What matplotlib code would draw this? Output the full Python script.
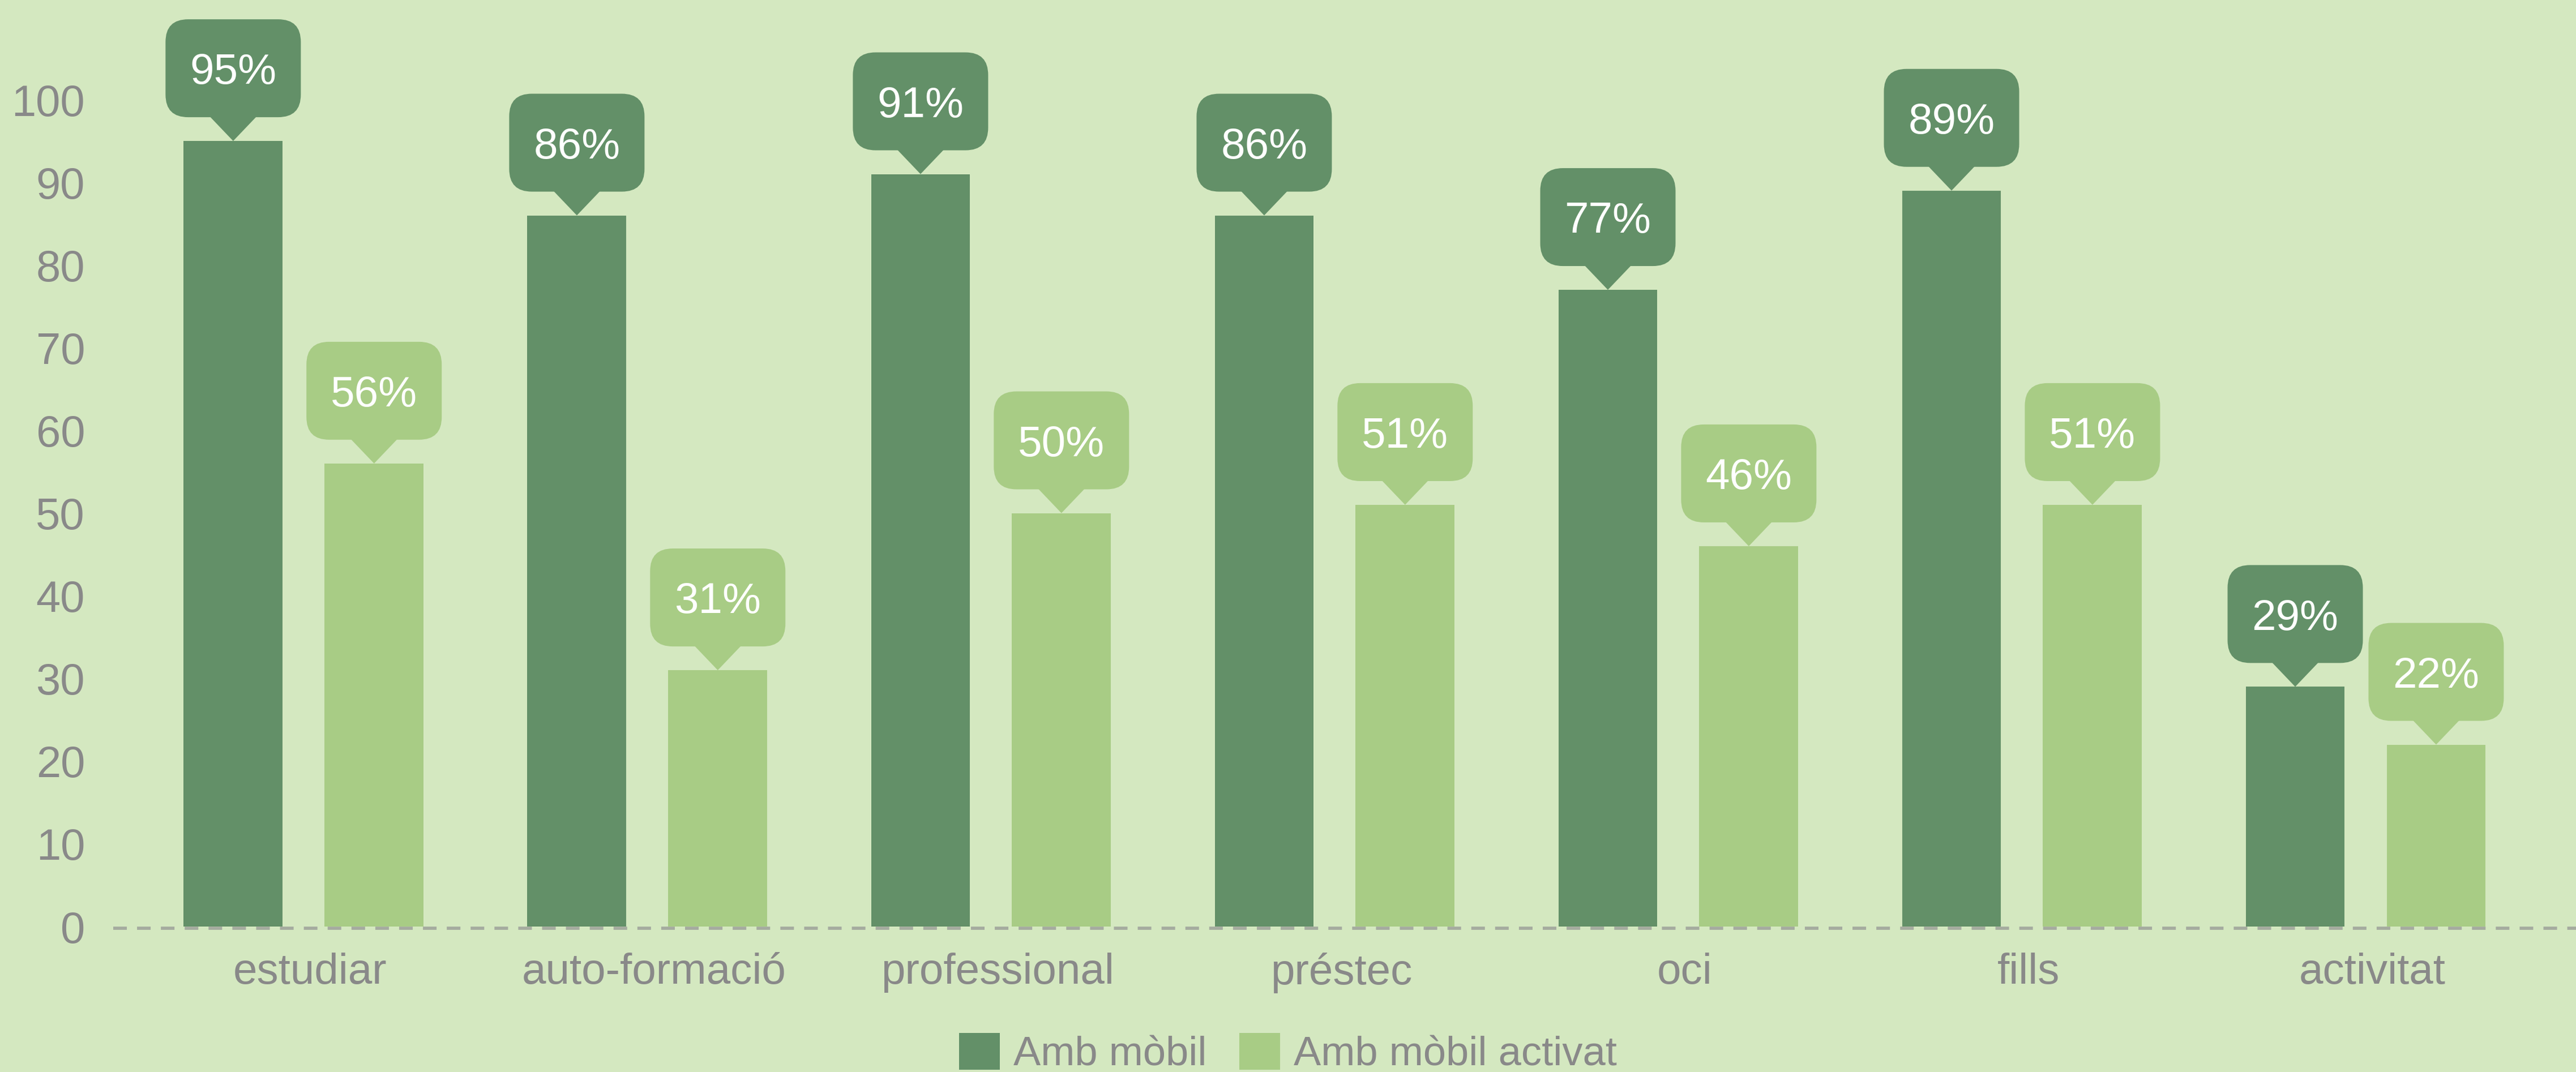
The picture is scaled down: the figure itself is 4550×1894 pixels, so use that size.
import matplotlib
matplotlib.use("Agg")
import matplotlib.pyplot as plt
import matplotlib.transforms as mtransforms
from matplotlib.patches import FancyBboxPatch, Polygon, Patch

categories = ["estudiar", "auto-formació", "professional", "préstec", "oci", "fills", "activitat"]
amb_mobil = [95, 86, 91, 86, 77, 89, 29]
amb_mobil_activat = [56, 31, 50, 51, 46, 51, 22]
series_names = ["Amb mòbil", "Amb mòbil activat"]
yticks = [0, 10, 20, 30, 40, 50, 60, 70, 80, 90, 100]

bg = "#d4e8c0"
dark = "#639068"
light = "#a8cc85"
grey = "#898989"

plt.rcParams["font.family"] = ["Liberation Sans", "DejaVu Sans"]
plt.rcParams["lines.scale_dashes"] = False

W, H = 4550, 1894
fig = plt.figure(figsize=(W / 100, H / 100), dpi=100)
fig.patch.set_facecolor(bg)
ax = fig.add_axes([200 / W, 257 / H, 4350 / W, 1637 / H])
ax.set_facecolor(bg)

bw = 0.288
offs = [-0.224, 0.186]
x = list(range(len(categories)))
for s, (vals, col) in enumerate([(amb_mobil, dark), (amb_mobil_activat, light)]):
    xs = [xi + offs[s] for xi in x]
    ax.bar(xs, vals, width=bw, color=col, zorder=4)
    for xi, v in zip(xs, vals):
        trans = fig.dpi_scale_trans + mtransforms.ScaledTranslation(xi, v, ax.transData)
        box = FancyBboxPatch((-1.195, 0.42), 2.39, 1.73,
                             boxstyle="round,pad=0,rounding_size=0.40",
                             transform=trans, facecolor=col, edgecolor="none",
                             clip_on=False, zorder=5)
        tri = Polygon([(-0.42, 0.44), (0.42, 0.44), (0, 0)], closed=True,
                      transform=trans, facecolor=col, edgecolor="none",
                      clip_on=False, zorder=5)
        ax.add_patch(box)
        ax.add_patch(tri)
        ax.annotate(f"{v}%", xy=(xi, v), xytext=(0, 1.285 * 72 - 6),
                    textcoords="offset points", ha="center", va="center",
                    color="white", fontsize=55, zorder=6, annotation_clip=False)

ax.axhline(-0.2, color="#a5ab9f", linewidth=4.1, linestyle=(0, (17.3, 13.0)),
           zorder=3, clip_on=False)

ax.set_xlim(-0.573, 6.593)
ax.set_ylim(0, 112.05)
ax.set_yticks(yticks)
ax.set_yticklabels([str(t) for t in yticks])
ax.set_xticks(x)
ax.set_xticklabels(categories)
ax.tick_params(axis="y", length=0, pad=36, labelsize=56, labelcolor=grey)
ax.tick_params(axis="x", length=0, pad=33, labelsize=55, labelcolor=grey)
for sp in ax.spines.values():
    sp.set_visible(False)

handles = [Patch(facecolor=dark, edgecolor="none"), Patch(facecolor=light, edgecolor="none")]
fig.legend(handles, series_names, loc="center", bbox_to_anchor=(0.5, 0.0174),
           ncol=2, frameon=False, fontsize=52, labelcolor=grey,
           handlelength=1.0, handleheight=1.0, handletextpad=0.33, columnspacing=0.8)

fig.savefig("out.png", dpi=100, facecolor=bg)
